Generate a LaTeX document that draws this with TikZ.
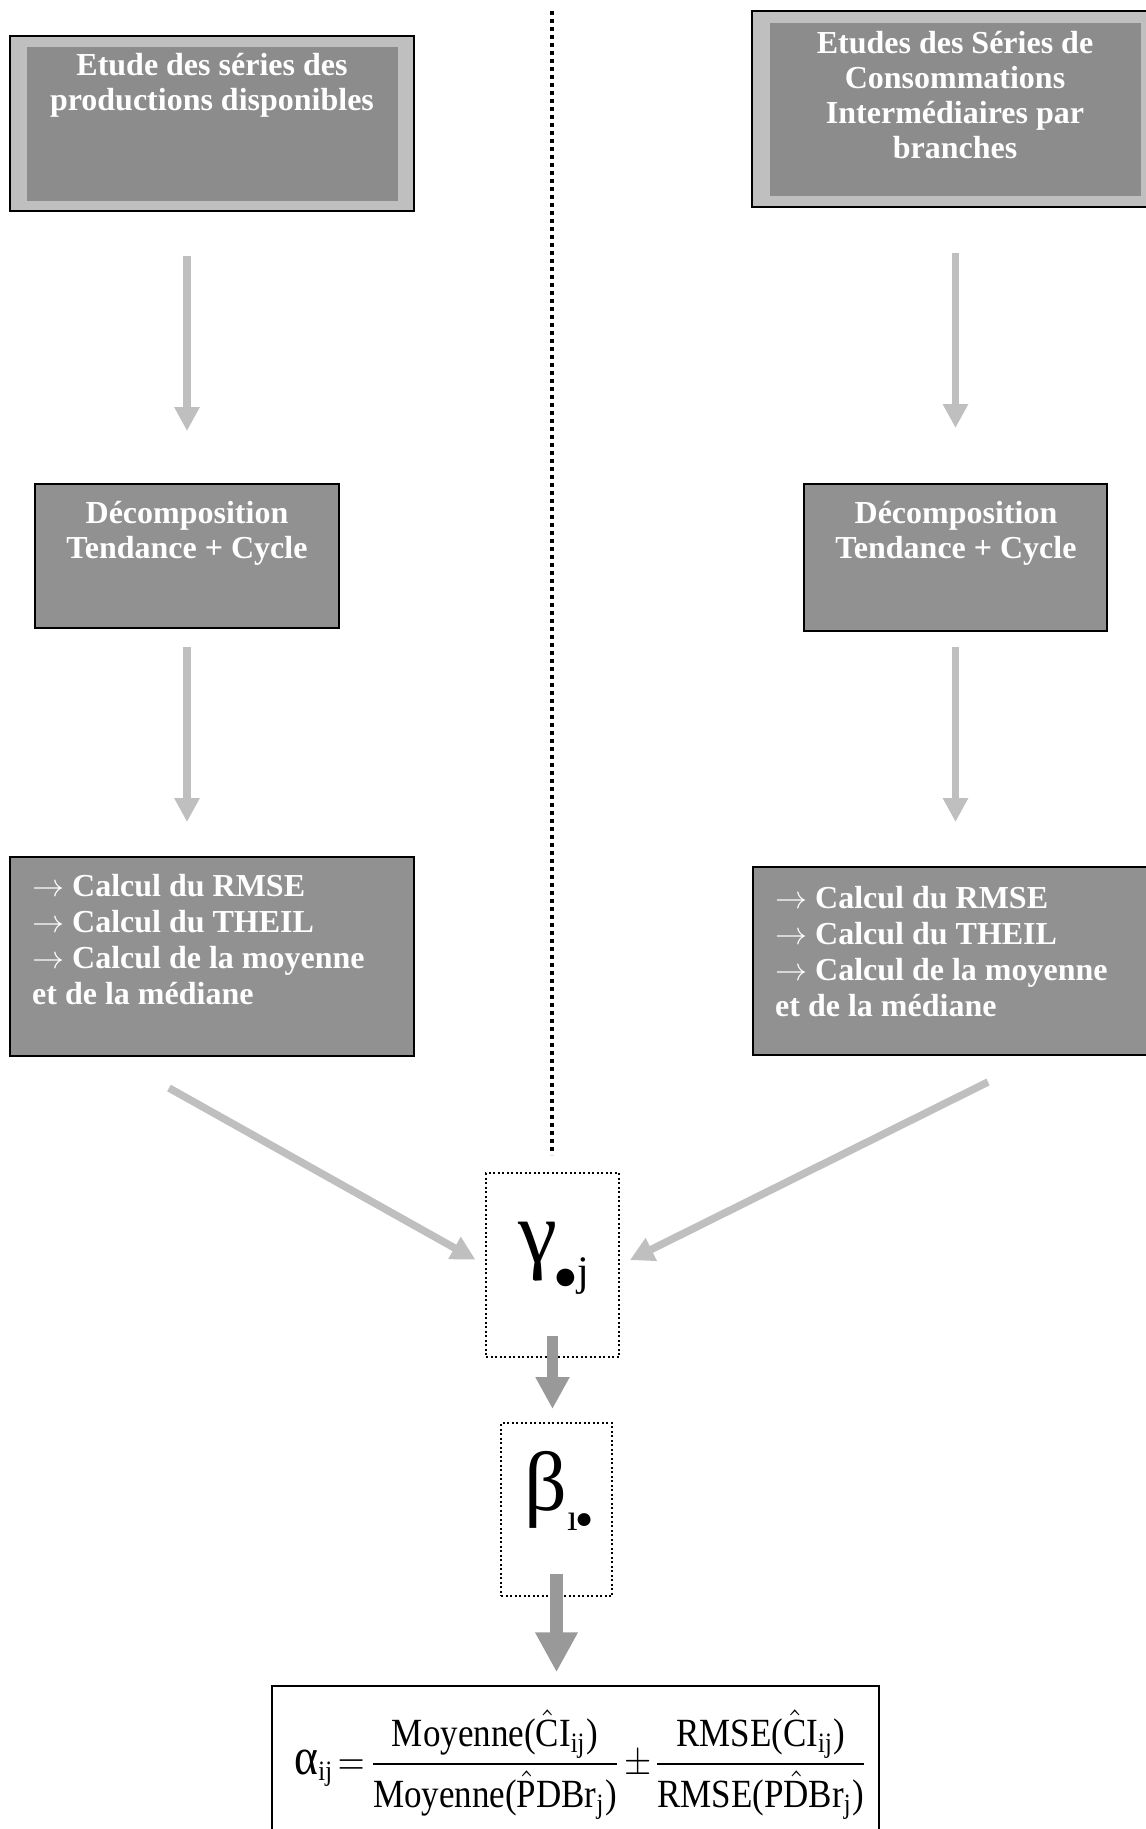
\RequirePackage{fix-cm}
\documentclass[tikz,border=0pt]{standalone}
\usepackage{fontspec}
\setmainfont{Liberation Serif}
\usepackage{amsmath}
\usepackage{graphicx}
\usepackage{tikz}
\usetikzlibrary{arrows.meta}
\definecolor{grisclair}{gray}{0.75}
\definecolor{grisfonce}{gray}{0.55}
\definecolor{grisboite}{gray}{0.57}
\definecolor{grisfleche}{gray}{0.6}

\begin{document}
\begin{tikzpicture}[x=1pt,y=-1pt,
		cadre/.style={draw=black,line width=2pt,fill=grisclair,inner sep=0pt},
		boite/.style={fill=grisfonce,inner sep=0pt},
		bloc/.style={draw=black,line width=2pt,fill=grisboite,inner sep=0pt},
		texte/.style={text=white,inner sep=0pt,font=\fontsize{32}{35}\selectfont\bfseries},
		liste/.style={text=white,inner sep=0pt,align=left,anchor=north west,font=\fontsize{32}{36}\selectfont\bfseries},
		pointille/.style={draw=black,line width=2pt,dash pattern=on 2pt off 2.5pt,inner sep=0pt},
		fleche/.style={grisclair,line width=7.5pt,-{Triangle[width=24pt,length=24pt]}},
		grosse/.style={grisfleche,line width=11pt,-{Triangle[width=32pt,length=32pt]}},
		tresgrosse/.style={grisfleche,line width=13pt,-{Triangle[width=40pt,length=40pt]}}]
				\useasboundingbox (0,0) rectangle (1146,1829);
				\draw[line width=4pt,dash pattern=on 4pt off 4pt] (552,11) -- (552,1155);
				\node[cadre,minimum width=404,minimum height=175] (prodO) at (212,123.5) {};
				\node[boite,minimum width=371,minimum height=154] (prodI) at (212.5,124) {};
				\node[texte,align=center,anchor=north] (prodT) at (212,53) {Etude des séries des\\productions disponibles};
				\node[cadre,minimum width=407,minimum height=196] (consoO) at (955.5,109) {};
				\node[boite,minimum width=371,minimum height=173] (consoI) at (955.5,109.5) {};
				\node[texte,align=center,anchor=north] (consoT) at (955,31) {Etudes des Séries de\\Consommations\\Intermédiaires par\\branches};
				\node[bloc,minimum width=304,minimum height=144] (decompL) at (187,556) {};
				\node[texte,align=center,anchor=north] (decompLT) at (187,501) {Décomposition\\Tendance + Cycle};
				\node[bloc,minimum width=303,minimum height=147] (decompR) at (955.5,557.5) {};
				\node[texte,align=center,anchor=north] (decompRT) at (956,501) {Décomposition\\Tendance + Cycle};
				\node[bloc,minimum width=404,minimum height=199] (calcL) at (212,956.5) {};
				\node[liste] (calcLT) at (32,874) {$\rightarrow$ Calcul du RMSE\\$\rightarrow$ Calcul du THEIL\\$\rightarrow$ Calcul de la moyenne\\et de la médiane};
				\node[bloc,minimum width=406,minimum height=188] (calcR) at (956,961) {};
				\node[liste] (calcRT) at (775,886) {$\rightarrow$ Calcul du RMSE\\$\rightarrow$ Calcul du THEIL\\$\rightarrow$ Calcul de la moyenne\\et de la médiane};
				\node[pointille,minimum width=133,minimum height=184] (gamma) at (552.5,1265) {};
				\node[inner sep=0pt,font=\fontsize{88}{88}\selectfont] (gammaT) at (554,1258) {γ\raisebox{-23pt}{\kern-4pt\raisebox{-4pt}{\fontsize{41}{41}\selectfont ●}{\fontsize{42}{42}\selectfont j}}};
				\node[pointille,minimum width=111,minimum height=173] (beta) at (556.5,1509.5) {};
				\node[inner sep=0pt,font=\fontsize{84}{84}\selectfont] (betaT) at (559,1491) {β\raisebox{-20pt}{{\fontsize{38}{38}\selectfont ı}\kern-3pt\raisebox{2pt}{\fontsize{30}{30}\selectfont ●}}};
				\node[draw=black,line width=1.5pt,minimum width=607,minimum height=170,inner sep=0pt] (formule) at (575.5,1771) {};
				\node[anchor=base,inner sep=0pt] (formuleT) at (581.5,1774) {\scalebox{3.5}[4]{$\text{\fontsize{13}{13}\selectfont α}_{\text{ij}}\mkern-3mu=\mkern-3mu\dfrac{\text{Moyenne(}\hat{\text{C}}\text{I}_{\text{ij}}\text{)}}{\rule{0pt}{9.4pt}\text{Moyenne(}\hat{\text{P}}\text{DBr}_{\text{j}}\text{)}}\mkern-2mu\pm\mkern-3.5mu\dfrac{\text{RMSE(}\hat{\text{C}}\text{I}_{\text{ij}}\text{)}}{\rule{0pt}{9.4pt}\text{RMSE(P}\hat{\text{D}}\text{Br}_{\text{j}}\text{)}}$}};
				\coordinate (departL) at (169,1088);
				\coordinate (departR) at (988,1082);
				\draw[fleche,shorten <=44pt,shorten >=52pt] (prodO.south -| decompL) -- (decompL.north);
				\draw[fleche,shorten <=45pt,shorten >=55pt] (consoO.south -| decompR) -- (decompR.north);
				\draw[fleche,shorten <=18pt,shorten >=34pt] (decompL.south) -- (calcL.north -| decompL);
				\draw[fleche,shorten <=15pt,shorten >=44pt] (decompR.south) -- (calcR.north -| decompR);
				\draw[fleche,shorten >=11pt] (departL) -- (gamma.west);
				\draw[fleche,shorten >=11pt] (departR) -- (gamma.east);
				\draw[grosse,shorten <=-22pt,shorten >=13pt] (gamma.south) -- (gamma.south |- beta.north);
				\draw[tresgrosse,shorten <=-23pt,shorten >=13pt] (beta.south) -- (beta.south |- formule.north);
			\end{tikzpicture}
\end{document}
